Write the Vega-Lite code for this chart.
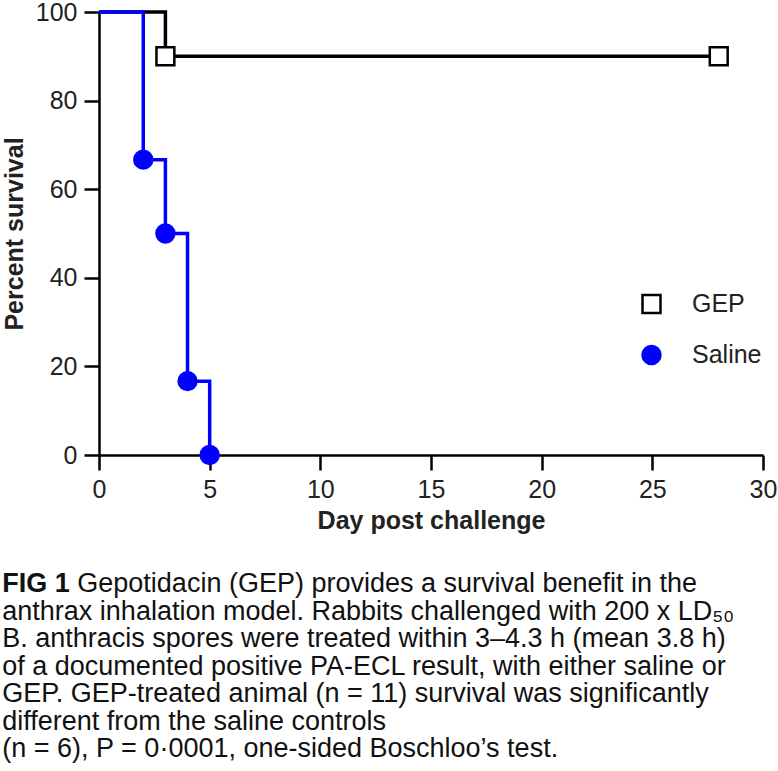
{
  "$schema": "https://vega.github.io/schema/vega-lite/v6.json",
  "width": 664,
  "height": 443,
  "padding": {"left": 2, "top": 0, "right": 5, "bottom": 5},
  "background": "white",
  "config": {
    "font": "Liberation Sans",
    "view": {"stroke": null},
    "axis": {
      "grid": false,
      "domainColor": "black",
      "domainWidth": 2.5,
      "tickColor": "black",
      "tickWidth": 2.5,
      "tickSize": 15,
      "labelFont": "Liberation Sans",
      "labelFontSize": 25,
      "labelColor": "#222",
      "labelPadding": 7,
      "labelFlush": false,
      "titleFont": "Liberation Sans",
      "titleFontSize": 25,
      "titleFontWeight": "bold",
      "titleColor": "#222"
    }
  },
  "title": {
    "text": "FIG 1",
    "subtitle": [
      "\u200b\u00a0\u00a0\u00a0\u00a0\u00a0\u00a0\u00a0\u00a0\u00a0\u00a0Gepotidacin (GEP) provides a survival benefit in the",
      "anthrax inhalation model. Rabbits challenged with 200 x LD₅₀",
      "B. anthracis spores were treated within 3–4.3 h (mean 3.8 h)",
      "of a documented positive PA-ECL result, with either saline or",
      "GEP. GEP-treated animal (n = 11) survival was significantly",
      "different from the saline controls",
      "(n = 6), P = 0·0001, one-sided Boschloo’s test."
    ],
    "orient": "bottom",
    "anchor": "start",
    "frame": "bounds",
    "font": "Liberation Sans",
    "fontSize": 27,
    "fontWeight": "bold",
    "color": "#111",
    "subtitleFont": "Liberation Sans",
    "subtitleFontSize": 27,
    "subtitleFontWeight": "normal",
    "subtitleColor": "#111",
    "subtitleLineHeight": 27.5,
    "subtitlePadding": -27,
    "offset": 38
  },
  "data": {
    "values": [
      {"group": "GEP", "day": 0, "survival": 100, "marker": false},
      {"group": "GEP", "day": 3, "survival": 90, "marker": true},
      {"group": "GEP", "day": 28, "survival": 90, "marker": true},
      {"group": "Saline", "day": 0, "survival": 100, "marker": false},
      {"group": "Saline", "day": 2, "survival": 66.67, "marker": true},
      {"group": "Saline", "day": 3, "survival": 50, "marker": true},
      {"group": "Saline", "day": 4, "survival": 16.67, "marker": true},
      {"group": "Saline", "day": 5, "survival": 0, "marker": true}
    ]
  },
  "encoding": {
    "x": {
      "field": "day",
      "type": "quantitative",
      "scale": {"domain": [0, 30], "nice": false, "zero": false},
      "axis": {"values": [0, 5, 10, 15, 20, 25, 30], "title": "Day post challenge", "titlePadding": 6}
    },
    "y": {
      "field": "survival",
      "type": "quantitative",
      "scale": {"domain": [0, 100], "nice": false},
      "axis": {"values": [0, 20, 40, 60, 80, 100], "title": "Percent survival", "titlePadding": 8}
    }
  },
  "layer": [
    {
      "mark": {"type": "line", "interpolate": "step-after", "strokeWidth": 3.5},
      "encoding": {
        "color": {
          "field": "group",
          "type": "nominal",
          "scale": {"domain": ["GEP", "Saline"], "range": ["black", "#0000ff"]},
          "legend": {
            "title": null,
            "orient": "none",
            "legendX": 540,
            "legendY": 268,
            "symbolSize": 324,
            "symbolStrokeWidth": 2.5,
            "clipHeight": 48,
            "rowPadding": 3,
            "labelFont": "Liberation Sans",
            "labelFontSize": 25,
            "labelColor": "#222",
            "labelOffset": 28
          }
        }
      }
    },
    {
      "transform": [{"filter": "datum.marker"}],
      "mark": {"type": "point", "size": 320, "strokeWidth": 2.5, "opacity": 1},
      "encoding": {
        "shape": {
          "field": "group",
          "type": "nominal",
          "scale": {"domain": ["GEP", "Saline"], "range": ["square", "circle"]},
          "legend": null
        },
        "fill": {
          "field": "group",
          "type": "nominal",
          "scale": {"domain": ["GEP", "Saline"], "range": ["white", "#0000ff"]},
          "legend": null
        },
        "stroke": {
          "field": "group",
          "type": "nominal",
          "scale": {"domain": ["GEP", "Saline"], "range": ["black", "#0000ff"]},
          "legend": null
        }
      }
    }
  ]
}
